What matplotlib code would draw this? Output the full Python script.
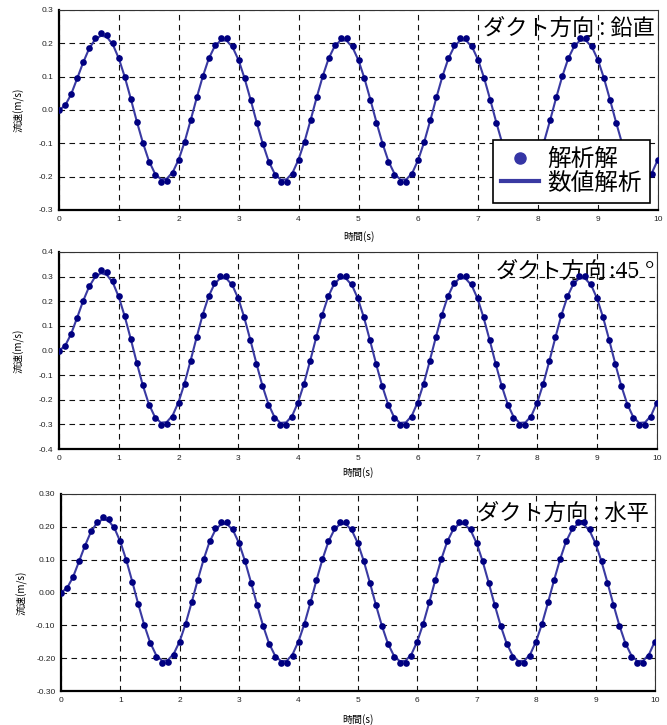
import matplotlib
matplotlib.use("Agg")
import matplotlib.pyplot as plt
import numpy as np
from matplotlib.lines import Line2D

plt.rcParams["font.family"] = ["Noto Sans CJK JP", "DejaVu Sans"]

# time axis (s), 0.1 s step
time_s = np.round(np.arange(0, 10.01, 0.1), 1)

# duct direction: vertical
vert_exact = [
    0.000, 0.015, 0.048, 0.095, 0.143, 0.186, 0.216, 0.230, 0.225, 0.200,
    0.156, 0.100, 0.033, -0.036, -0.100, -0.155, -0.195, -0.215, -0.213, -0.190,
    -0.150, -0.095, -0.030, 0.038, 0.102, 0.157, 0.196, 0.215, 0.215, 0.192,
    0.151, 0.095, 0.030, -0.038, -0.102, -0.157, -0.196, -0.215, -0.215, -0.192,
    -0.150, -0.095, -0.030, 0.038, 0.102, 0.157, 0.196, 0.215, 0.215, 0.192,
    0.151, 0.095, 0.030, -0.038, -0.102, -0.157, -0.196, -0.215, -0.215, -0.192,
    -0.150, -0.095, -0.030, 0.038, 0.102, 0.157, 0.196, 0.215, 0.215, 0.192,
    0.151, 0.095, 0.030, -0.038, -0.102, -0.157, -0.196, -0.215, -0.215, -0.192,
    -0.150, -0.095, -0.030, 0.038, 0.102, 0.157, 0.196, 0.215, 0.215, 0.192,
    0.151, 0.095, 0.030, -0.038, -0.102, -0.157, -0.196, -0.215, -0.215, -0.192,
    -0.150,
]
vert_num = [
    0.000, 0.013, 0.046, 0.093, 0.141, 0.183, 0.211, 0.223, 0.219, 0.196,
    0.154, 0.098, 0.033, -0.035, -0.098, -0.152, -0.190, -0.208, -0.206, -0.186,
    -0.148, -0.094, -0.030, 0.037, 0.100, 0.154, 0.191, 0.209, 0.208, 0.188,
    0.149, 0.094, 0.030, -0.037, -0.100, -0.154, -0.191, -0.209, -0.208, -0.188,
    -0.148, -0.094, -0.030, 0.037, 0.100, 0.154, 0.191, 0.209, 0.208, 0.188,
    0.149, 0.094, 0.030, -0.037, -0.100, -0.154, -0.191, -0.209, -0.208, -0.188,
    -0.148, -0.094, -0.030, 0.037, 0.100, 0.154, 0.191, 0.209, 0.208, 0.188,
    0.149, 0.094, 0.030, -0.037, -0.100, -0.154, -0.191, -0.209, -0.208, -0.188,
    -0.148, -0.094, -0.030, 0.037, 0.100, 0.154, 0.191, 0.209, 0.208, 0.188,
    0.149, 0.094, 0.030, -0.037, -0.100, -0.154, -0.191, -0.209, -0.208, -0.188,
    -0.148,
]

# duct direction: 45 deg
diag_exact = [
    0.000, 0.020, 0.068, 0.133, 0.202, 0.262, 0.305, 0.325, 0.317, 0.282,
    0.220, 0.140, 0.047, -0.050, -0.142, -0.220, -0.274, -0.303, -0.300, -0.270,
    -0.212, -0.135, -0.042, 0.053, 0.145, 0.222, 0.276, 0.304, 0.302, 0.271,
    0.213, 0.135, 0.043, -0.053, -0.143, -0.220, -0.275, -0.303, -0.302, -0.270,
    -0.212, -0.135, -0.042, 0.053, 0.145, 0.222, 0.276, 0.304, 0.302, 0.271,
    0.213, 0.135, 0.043, -0.053, -0.143, -0.220, -0.275, -0.303, -0.302, -0.270,
    -0.212, -0.135, -0.042, 0.053, 0.145, 0.222, 0.276, 0.304, 0.302, 0.271,
    0.213, 0.135, 0.043, -0.053, -0.143, -0.220, -0.275, -0.303, -0.302, -0.270,
    -0.212, -0.135, -0.042, 0.053, 0.145, 0.222, 0.276, 0.304, 0.302, 0.271,
    0.213, 0.135, 0.043, -0.053, -0.143, -0.220, -0.275, -0.303, -0.302, -0.270,
    -0.212,
]
diag_num = [
    0.000, 0.018, 0.066, 0.131, 0.199, 0.257, 0.298, 0.314, 0.307, 0.276,
    0.217, 0.138, 0.047, -0.049, -0.140, -0.216, -0.268, -0.293, -0.291, -0.264,
    -0.209, -0.133, -0.042, 0.052, 0.143, 0.218, 0.270, 0.294, 0.292, 0.265,
    0.210, 0.133, 0.043, -0.052, -0.141, -0.216, -0.269, -0.294, -0.292, -0.265,
    -0.209, -0.133, -0.042, 0.052, 0.143, 0.218, 0.270, 0.294, 0.292, 0.265,
    0.210, 0.133, 0.043, -0.052, -0.141, -0.216, -0.269, -0.294, -0.292, -0.265,
    -0.209, -0.133, -0.042, 0.052, 0.143, 0.218, 0.270, 0.294, 0.292, 0.265,
    0.210, 0.133, 0.043, -0.052, -0.141, -0.216, -0.269, -0.294, -0.292, -0.265,
    -0.209, -0.133, -0.042, 0.052, 0.143, 0.218, 0.270, 0.294, 0.292, 0.265,
    0.210, 0.133, 0.043, -0.052, -0.141, -0.216, -0.269, -0.294, -0.292, -0.265,
    -0.209,
]

# duct direction: horizontal
horiz_exact = list(vert_exact)
horiz_num = list(vert_num)

x_ticks = list(range(0, 11))
y_ticks_vert = [-0.3, -0.2, -0.1, 0.0, 0.1, 0.2, 0.3]
y_ticks_diag = [-0.4, -0.3, -0.2, -0.1, 0.0, 0.1, 0.2, 0.3, 0.4]
y_ticks_horiz = [-0.30, -0.20, -0.10, 0.00, 0.10, 0.20, 0.30]

DOT = "#000080"
LINE = "#3a3aa2"
W, H = 667, 725


def px_axes(fig, left, top, right, bottom):
    return fig.add_axes([left / W, 1 - bottom / H, (right - left) / W, (bottom - top) / H])


def style(ax, yticks, fmt, xlabel_y):
    ax.set_xlim(0, 10)
    ax.set_ylim(yticks[0], yticks[-1])
    ax.set_xticks(x_ticks)
    ax.set_yticks(yticks)
    ax.set_xticklabels([str(v) for v in x_ticks])
    ax.set_yticklabels([fmt.format(v) for v in yticks])
    for lab in ax.get_xticklabels() + ax.get_yticklabels():
        lab.set_family(["Liberation Sans", "DejaVu Sans"])
        lab.set_fontsize(6)
        lab.set_color("#222222")
    ax.tick_params(length=0, pad=4)
    ax.grid(True, color="#111111", linestyle=(0, (5, 4)), linewidth=0.8)
    ax.set_axisbelow(True)
    for side in ("left", "bottom"):
        ax.spines[side].set_linewidth(1.6)
        ax.spines[side].set_color("black")
    for side in ("top", "right"):
        ax.spines[side].set_linewidth(0.8)
        ax.spines[side].set_color("#333333")
    ax.set_ylabel("流速(m/s)", fontsize=7.2)
    ax.yaxis.set_label_coords(-0.057, 0.5)
    ax.set_xlabel("時間(s)", fontsize=7.2)
    ax.xaxis.set_label_coords(0.5, xlabel_y)


def draw(ax, exact, num):
    ax.plot(time_s, num, color=LINE, linewidth=1.5, zorder=2)
    ax.plot(time_s, exact, linestyle="none", marker="o", markersize=4.8,
            color=DOT, markeredgewidth=0, zorder=3)


fig = plt.figure(figsize=(W / 100, H / 100), dpi=100, facecolor="white")

ax1 = px_axes(fig, 59, 10, 658, 210)
draw(ax1, vert_exact, vert_num)
style(ax1, y_ticks_vert, "{:.1f}", -0.105)
ax1.text(0.995, 0.91, "ダクト方向 : 鉛直", transform=ax1.transAxes, ha="right",
         va="center", fontsize=16, zorder=1)
handles = [
    Line2D([], [], linestyle="none", marker="o", markersize=8, color="#3535a5"),
    Line2D([], [], color="#3a3aa2", linewidth=3),
]
leg = ax1.legend(handles, ["解析解", "数値解析"], loc="lower right",
                 bbox_to_anchor=(0.987, 0.035), borderaxespad=0, fontsize=17,
                 fancybox=False, framealpha=1, edgecolor="black",
                 labelspacing=0.02, handlelength=1.6, handletextpad=0.35,
                 borderpad=0.35)
leg.get_frame().set_linewidth(1.2)
leg.set_zorder(5)

ax2 = px_axes(fig, 59, 252, 657, 449)
draw(ax2, diag_exact, diag_num)
style(ax2, y_ticks_diag, "{:.1f}", -0.09)
ax2.text((607 - 59) / 598, 0.9, "ダクト方向", transform=ax2.transAxes, ha="right",
         va="center", fontsize=16, zorder=1)
ax2.text((609 - 59) / 598, 0.9, ":45 °", transform=ax2.transAxes, ha="left",
         va="center", fontsize=17, zorder=1, clip_on=False,
         family=["Liberation Serif", "DejaVu Serif"])

ax3 = px_axes(fig, 61, 494, 655, 691)
draw(ax3, horiz_exact, horiz_num)
style(ax3, y_ticks_horiz, "{:.2f}", -0.115)
ax3.text(0.99, 0.9, "ダクト方向 : 水平", transform=ax3.transAxes, ha="right",
         va="center", fontsize=16, zorder=1)

fig.savefig("out.png", dpi=100, facecolor="white")
